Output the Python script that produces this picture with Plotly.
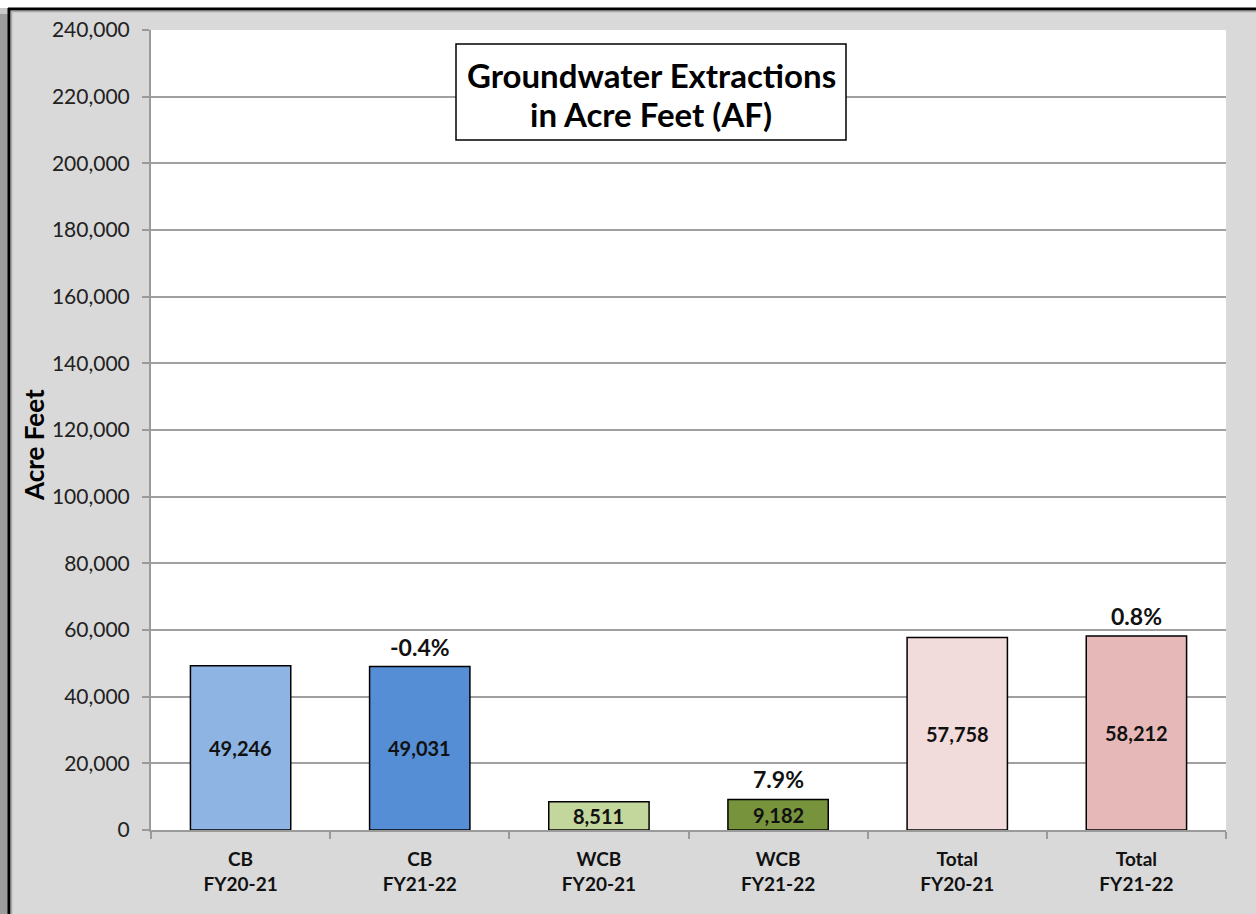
import plotly.graph_objects as go

categories = ["CB<br>FY20-21", "CB<br>FY21-22", "WCB<br>FY20-21", "WCB<br>FY21-22", "Total<br>FY20-21", "Total<br>FY21-22"]
values = [49246, 49031, 8511, 9182, 57758, 58212]
value_labels = ["49,246", "49,031", "8,511", "9,182", "57,758", "58,212"]
bar_colors = ["#8EB4E3", "#558ED5", "#C3D69B", "#77933C", "#F2DCDB", "#E6B9B8"]
pct_labels = [None, "-0.4%", None, "7.9%", None, "0.8%"]
y_ticks = list(range(0, 240001, 20000))
title_lines = ["Groundwater Extractions", "in Acre Feet (AF)"]

FONT = "Lato"
W, H = 1256, 914
L, R, T, B = 151, 1226, 30, 830


def px2x(px):
    return (px - L) / (R - L)


def py2y(py):
    return (B - py) / (B - T)


fig = go.Figure()
fig.add_trace(go.Bar(
    x=categories, y=values,
    marker=dict(color=bar_colors, line=dict(color="#000000", width=1.5)),
    width=0.56, hoverinfo="skip",
))

annotations = []
for c, v, lab in zip(categories, values, value_labels):
    annotations.append(dict(x=c, y=v / 2, xref="x", yref="y", text="<b>%s</b>" % lab,
                            showarrow=False, xanchor="center", yanchor="middle",
                            font=dict(family=FONT, size=20, color="#111111")))
for c, v, p in zip(categories, values, pct_labels):
    if p:
        annotations.append(dict(x=c, y=v, xref="x", yref="y", text="<b>%s</b>" % p,
                                showarrow=False, yshift=20, xanchor="center", yanchor="middle",
                                font=dict(family=FONT, size=23, color="#111111")))

# title box text (two lines)
for line, ypix in zip(title_lines, [75, 114]):
    annotations.append(dict(x=px2x(651), y=py2y(ypix), xref="paper", yref="paper",
                            text="<b>%s</b>" % line, showarrow=False,
                            xanchor="center", yanchor="middle",
                            font=dict(family=FONT, size=33, color="#000000")))
# y axis title
annotations.append(dict(x=px2x(34), y=py2y(445), xref="paper", yref="paper",
                        text="<b>Acre Feet</b>", textangle=-90, showarrow=False,
                        xanchor="center", yanchor="middle",
                        font=dict(family=FONT, size=26, color="#000000")))

shapes = [
    # top white strip
    dict(type="rect", xref="paper", yref="paper", x0=px2x(0), x1=px2x(W), y0=py2y(8), y1=py2y(-2),
         fillcolor="#FFFFFF", line=dict(width=0), layer="below"),
    # left shadow strip
    dict(type="rect", xref="paper", yref="paper", x0=px2x(-2), x1=px2x(8), y0=py2y(H + 2), y1=py2y(14),
         fillcolor="#9C9C9C", line=dict(width=0), layer="below"),
    dict(type="rect", xref="paper", yref="paper", x0=px2x(-2), x1=px2x(8), y0=py2y(14), y1=py2y(8),
         fillcolor="#C8C8C8", line=dict(width=0), layer="below"),
    # black frame lines
    dict(type="line", xref="paper", yref="paper", x0=px2x(9), x1=px2x(9), y0=py2y(8), y1=py2y(H + 5),
         line=dict(color="#000000", width=3)),
    dict(type="line", xref="paper", yref="paper", x0=px2x(8), x1=px2x(W + 5), y0=py2y(9), y1=py2y(9),
         line=dict(color="#000000", width=3)),
    dict(type="line", xref="paper", yref="paper", x0=px2x(11.5), x1=px2x(11.5), y0=py2y(11), y1=py2y(H + 5),
         line=dict(color="#A8A8A8", width=1.5)),
    dict(type="line", xref="paper", yref="paper", x0=px2x(11), x1=px2x(W + 5), y0=py2y(11.5), y1=py2y(11.5),
         line=dict(color="#A8A8A8", width=1.5)),
    # title box
    dict(type="rect", xref="paper", yref="paper", x0=px2x(456), x1=px2x(846), y0=py2y(140), y1=py2y(44),
         fillcolor="#FFFFFF", line=dict(color="#000000", width=1.5), layer="above"),
]

fig.update_layout(
    width=W, height=H,
    margin=dict(l=L, r=W - R, t=T, b=H - B, pad=0),
    paper_bgcolor="#D9D9D9", plot_bgcolor="#FFFFFF",
    showlegend=False, bargap=0.44,
    annotations=annotations, shapes=shapes,
    font=dict(family=FONT, color="#111111"),
    xaxis=dict(
        type="category", tickson="boundaries", ticks="outside", ticklen=7, tickcolor="#9A9A9A",
        tickwidth=1.5, showline=True, linecolor="#9A9A9A", linewidth=2, showgrid=False,
        tickfont=dict(family=FONT, size=19, color="#111111"), ticklabelstandoff=11,
        tickvals=categories, ticktext=["<b>%s</b>" % c for c in categories],
    ),
    yaxis=dict(
        range=[0, 240000], tickvals=y_ticks, tickformat=",d", ticks="outside", ticklen=7,
        tickcolor="#9A9A9A", tickwidth=1.5, showline=True, linecolor="#9A9A9A", linewidth=2,
        showgrid=True, gridcolor="#A0A0A0", gridwidth=2, zeroline=False,
        tickfont=dict(family=FONT, size=21, color="#222222"), ticklabelstandoff=8,
    ),
)

fig.write_html("out.html",
               config={"displayModeBar": False},
               post_script="document.body.style.margin='0';document.body.style.padding='0';"
                           "document.documentElement.style.overflow='hidden';")
